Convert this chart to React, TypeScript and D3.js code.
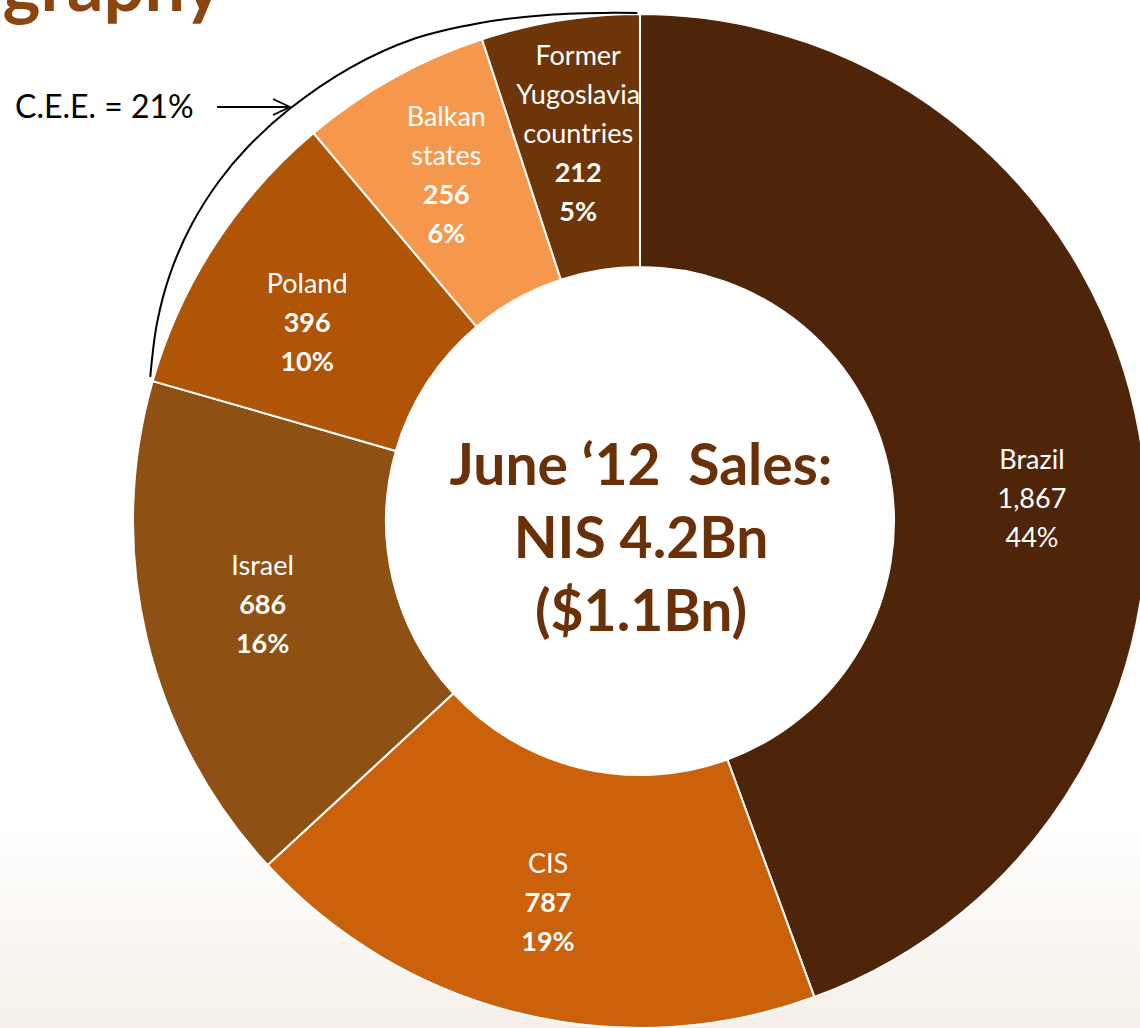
import React from "react";
import * as d3 from "d3";

// ---- data ----
const categories = ["Brazil", "CIS", "Israel", "Poland", "Balkan states", "Former Yugoslavia countries"];
const nameLines = [["Brazil"], ["CIS"], ["Israel"], ["Poland"], ["Balkan", "states"], ["Former", "Yugoslavia", "countries"]];
const values = [1867, 787, 686, 396, 256, 212];
const valueLabels = ["1,867", "787", "686", "396", "256", "212"];
const percentLabels = ["44%", "19%", "16%", "10%", "6%", "5%"];
const centerLines = ["June \u201812  Sales:", "NIS 4.2Bn", "($1.1Bn)"];
const groupLabel = "C.E.E. = 21%";
const titleText = "Geography";

// ---- styles ----
const colors = ["#4F2509", "#CB610A", "#8F5014", "#B05407", "#F5984D", "#6E3509"];
const boldValues = [false, true, true, true, true, true];
const labelNudge: [number, number][] = [[6, 46], [0, 0], [4, -7], [-4, 15], [-3, -4], [0, 0]];
// annotation arc around C.E.E. slices: [angle in degrees clockwise from top, radius]
const ceeArc: [number, number][] = [
  [-73.6, 510.5], [-67.7, 522], [-62.2, 531], [-56.5, 537.5], [-51.1, 541], [-46.4, 542],
  [-40.4, 541], [-32.6, 538], [-25.1, 532.5], [-17.8, 523], [-10.4, 514.5], [-3.0, 509], [-0.3, 508],
];

const W = 1140, H = 1028;
const CX = 640, CY = 521, R_OUT = 507, R_IN = 254, R_LABEL = 392;
const FONT = "Lato, 'Open Sans', sans-serif";

export default function App() {
  const pie = d3.pie<number>().sort(null).value((d) => d).startAngle(0).endAngle(2 * Math.PI);
  const arcs = pie(values);
  const arcGen = d3.arc<d3.PieArcDatum<number>>().innerRadius(R_IN).outerRadius(R_OUT);
  const rad = (deg: number) => (deg * Math.PI) / 180;
  const ceePath = d3
    .lineRadial<[number, number]>()
    .angle((d) => rad(d[0]))
    .radius((d) => d[1])
    .curve(d3.curveCatmullRom.alpha(0.5))(ceeArc) || "";
  const LH = 39;

  return (
    <svg width={W} height={H} style={{ position: "absolute", left: 0, top: 0, display: "block" }}>
      <defs>
        <linearGradient id="bg" x1="0" y1="0" x2="0" y2="1">
          <stop offset="0" stopColor="#ffffff" />
          <stop offset="0.8" stopColor="#ffffff" />
          <stop offset="1" stopColor="#f5efe8" />
        </linearGradient>
      </defs>
      <rect x={0} y={0} width={W} height={H} fill="url(#bg)" />
      <text x={222} y={11} textAnchor="end" fontFamily={FONT} fontWeight={700} fontSize={72} fill="#8C4510">
        {titleText}
      </text>
      <g transform={`translate(${CX},${CY})`}>
        {arcs.map((a, i) => (
          <path key={categories[i]} d={arcGen(a) || ""} fill={colors[i]} stroke="#ffffff" strokeWidth={2} strokeLinejoin="miter" />
        ))}
        <path d={ceePath} fill="none" stroke="#000" strokeWidth={2} />
        {arcs.map((a, i) => {
          const mid = (a.startAngle + a.endAngle) / 2;
          const x = R_LABEL * Math.sin(mid) + labelNudge[i][0];
          const y = -R_LABEL * Math.cos(mid) + labelNudge[i][1];
          const lines = [...nameLines[i], valueLabels[i], percentLabels[i]];
          const nName = nameLines[i].length;
          const y0 = y - ((lines.length - 1) / 2) * LH + 9.5;
          return (
            <text key={"l" + i} textAnchor="middle" fontFamily={FONT} fontSize={27} fill="#ffffff">
              {lines.map((t, j) => (
                <tspan key={j} x={x} y={y0 + j * LH} fontWeight={j >= nName && boldValues[i] ? 700 : 400}>
                  {t}
                </tspan>
              ))}
            </text>
          );
        })}
        <text textAnchor="middle" fontFamily={FONT} fontWeight={700} fontSize={57} fill="#6A3109" style={{ whiteSpace: "pre" }}>
          {centerLines.map((t, j) => (
            <tspan key={j} x={1} y={-36 + j * 73}>
              {t}
            </tspan>
          ))}
        </text>
      </g>
      <text x={15} y={118} fontFamily={FONT} fontSize={32} fill="#000">
        {groupLabel}
      </text>
      <line x1={217} y1={107} x2={289} y2={107} stroke="#000" strokeWidth={1.8} />
      <path d="M273,99 L290,107 L273,115" fill="none" stroke="#000" strokeWidth={1.8} />
    </svg>
  );
}
